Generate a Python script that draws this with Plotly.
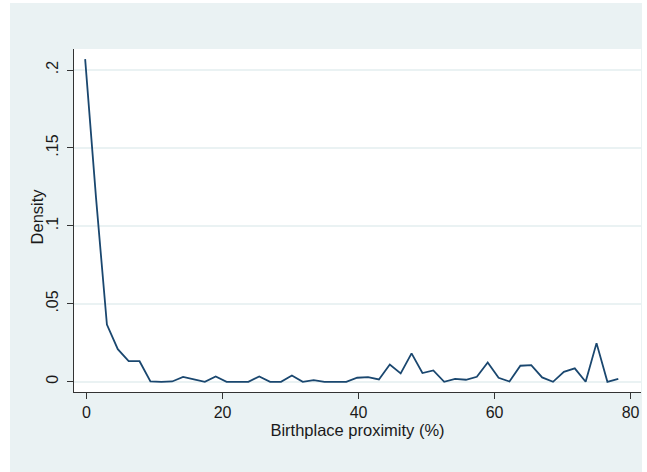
import plotly.graph_objects as go

# Bin midpoints (Birthplace proximity, %) and density values
proximity = [-0.2, 1.4, 3.0, 4.6, 6.2, 7.8, 9.4, 11.0, 12.6, 14.2,
             15.8, 17.4, 19.0, 20.6, 22.2, 23.8, 25.4, 27.0, 28.6, 30.2,
             31.8, 33.4, 35.0, 36.6, 38.2, 39.8, 41.4, 43.0, 44.6, 46.2,
             47.8, 49.4, 51.0, 52.6, 54.2, 55.8, 57.4, 59.0, 60.6, 62.2,
             63.8, 65.4, 67.0, 68.6, 70.2, 71.8, 73.4, 75.0, 76.6, 78.2]
density = [0.207, 0.118, 0.0367, 0.0209, 0.0132, 0.0132, 0.0003, 0.0, 0.0002, 0.0031,
           0.0015, 0.0, 0.0034, 0.0, 0.0, 0.0, 0.0034, 0.0, 0.0, 0.0040,
           0.0, 0.0010, 0.0, 0.0, 0.0, 0.0026, 0.0030, 0.0015, 0.0111, 0.0054,
           0.0182, 0.0056, 0.0073, 0.0, 0.0019, 0.0013, 0.0032, 0.0124, 0.0026, 0.0002,
           0.0103, 0.0107, 0.0028, 0.0, 0.0064, 0.0086, 0.0, 0.0248, 0.0, 0.0019]

x_ticks = [0, 20, 40, 60, 80]
x_ticktext = ["0", "20", "40", "60", "80"]
y_ticks = [0, 0.05, 0.1, 0.15, 0.2]
y_ticktext = ["0", ".05", ".1", ".15", ".2"]

BG = "#eaf2f3"
NAVY = "#1a476f"
FONT = "Liberation Sans, Arial, sans-serif"
TXT = "#1a1a1a"

W, H = 647, 472
ML, MR, MT, MB = 74, 6, 49, 80
pw = W - ML - MR
ph = H - MT - MB

def px_x(p):
    return (p - ML) / pw

def px_y(p):
    return (H - MB - p) / ph

fig = go.Figure()
fig.add_trace(go.Scatter(
    x=proximity, y=density, mode="lines",
    line=dict(color=NAVY, width=1.8),
    showlegend=False, hoverinfo="skip",
))

shapes = [
    dict(type="rect", xref="paper", yref="paper", layer="below",
         x0=px_x(0), x1=px_x(10), y0=px_y(H), y1=px_y(0),
         fillcolor="white", line=dict(width=0)),
    dict(type="rect", xref="paper", yref="paper", layer="below",
         x0=px_x(0), x1=px_x(W), y0=px_y(3), y1=px_y(0),
         fillcolor="white", line=dict(width=0)),
    dict(type="rect", xref="paper", yref="paper", layer="below",
         x0=px_x(642), x1=px_x(W), y0=px_y(H), y1=px_y(0),
         fillcolor="white", line=dict(width=0)),
]

annotations = [
    dict(text="Density", xref="paper", yref="paper",
         x=px_x(36.7), y=px_y(216.7),
         xanchor="center", yanchor="middle", textangle=-90, showarrow=False,
         font=dict(family=FONT, size=16.5, color=TXT)),
]

fig.update_layout(
    width=W, height=H,
    margin=dict(l=ML, r=MR, t=MT, b=MB, pad=0),
    paper_bgcolor=BG, plot_bgcolor="white",
    font=dict(family=FONT, size=16.5, color=TXT),
    shapes=shapes,
    annotations=annotations,
    xaxis=dict(
        range=[-1.84, 81.54], tickmode="array", tickvals=x_ticks, ticktext=x_ticktext,
        showgrid=False, zeroline=False, showline=True, linecolor="#333333", linewidth=1.2,
        ticks="outside", ticklen=6, tickwidth=1, tickcolor="#333333",
        tickfont=dict(family=FONT, size=16, color=TXT),
        title=dict(text="Birthplace proximity (%)", standoff=0,
                   font=dict(family=FONT, size=16.5, color=TXT)),
    ),
    yaxis=dict(
        range=[-0.00655, 0.2135], tickmode="array", tickvals=y_ticks, ticktext=y_ticktext,
        showgrid=True, gridcolor=BG, gridwidth=1.5, zeroline=False,
        showline=True, linecolor="#333333", linewidth=1.2,
        ticks="outside", ticklen=6, tickwidth=1, tickcolor="#333333",
        tickangle=-90, ticklabelstandoff=3,
        tickfont=dict(family=FONT, size=16, color=TXT),
    ),
)

fig.write_html(
    "out.html",
    config={"displayModeBar": False},
    post_script="document.body.style.margin='0';document.body.style.overflow='hidden';",
)
